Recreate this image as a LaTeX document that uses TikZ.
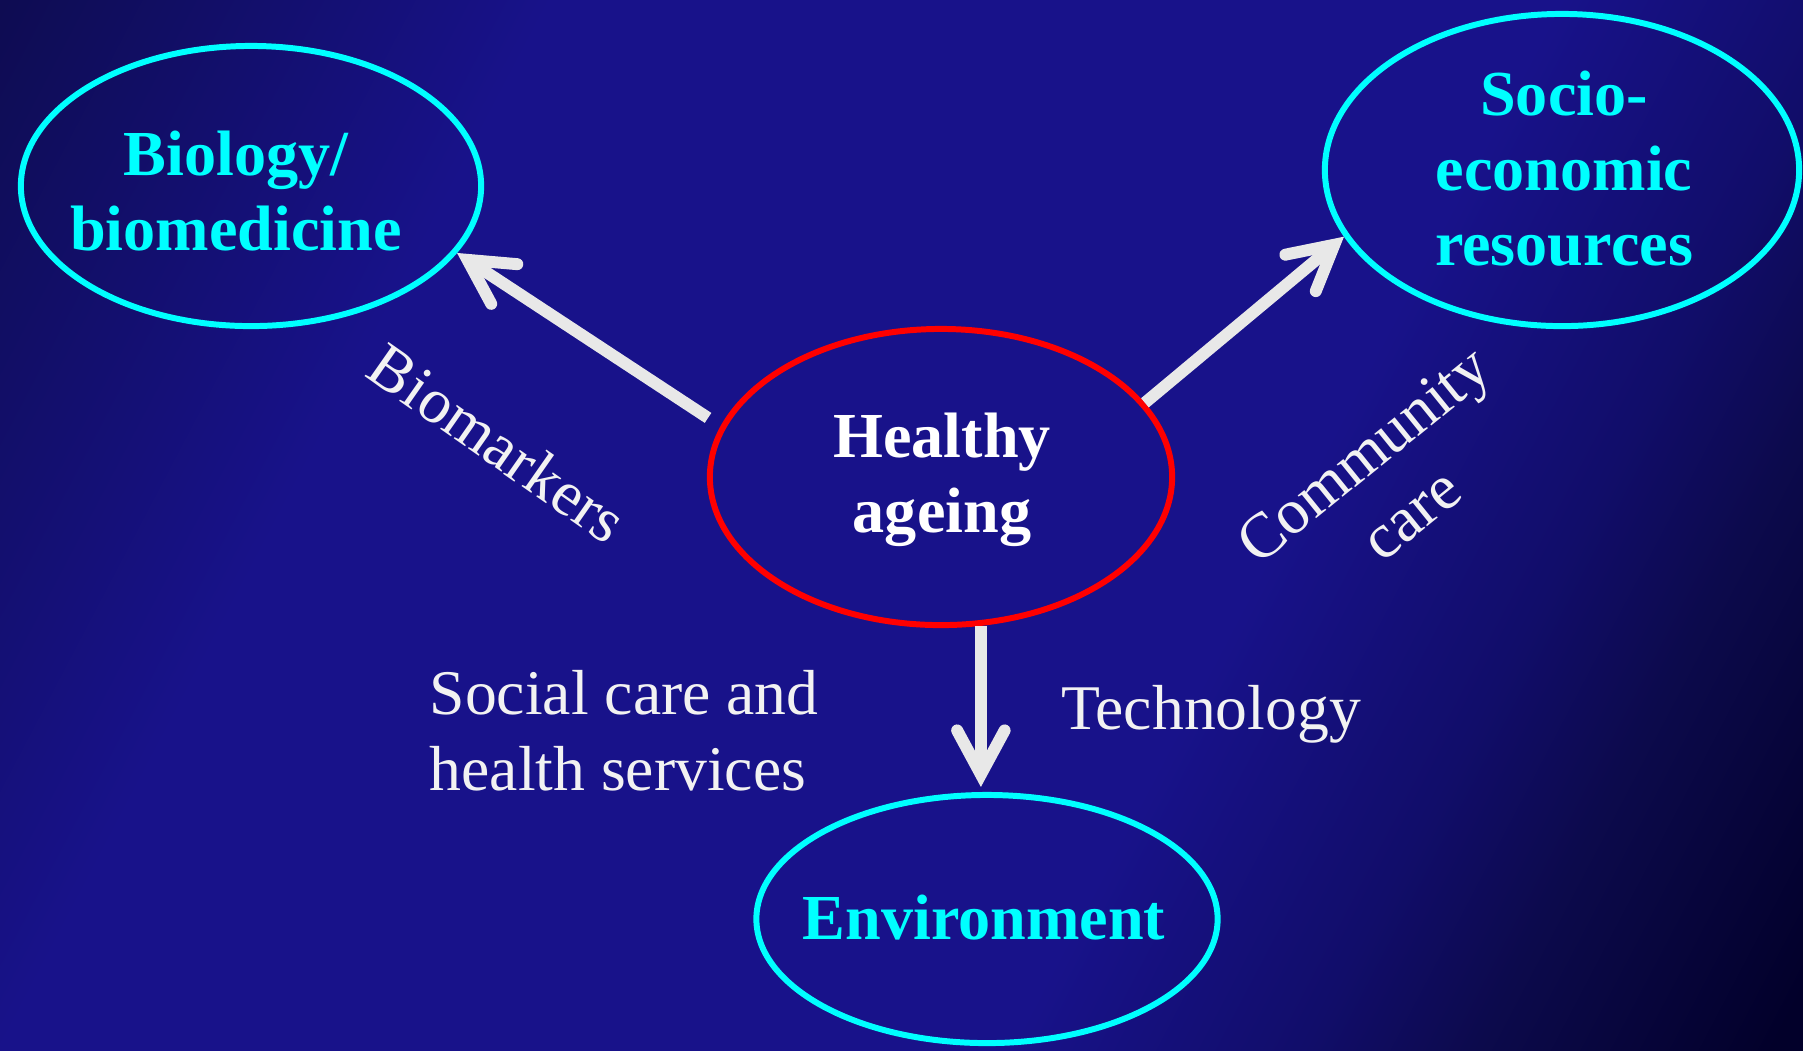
\documentclass[tikz,border=0pt]{standalone}
\usepackage{fontspec}
\setmainfont{Liberation Serif}
\usetikzlibrary{arrows.meta,shapes.geometric,calc}
\definecolor{aqua}{RGB}{0,255,255}
\definecolor{bgA}{HTML}{0E0C52}
\definecolor{bgB}{HTML}{18128A}
\definecolor{bgC}{HTML}{110D6A}
\definecolor{bgD}{HTML}{0C0A4C}
\definecolor{bgE}{HTML}{02002A}
\definecolor{arrowgrey}{HTML}{E8E8E8}
\definecolor{labelwhite}{HTML}{F2F2F2}
\pgfdeclarehorizontalshading{bgshade}{100bp}{color(0bp)=(bgA); color(16.25bp)=(bgA); color(32bp)=(bgB); color(61bp)=(bgB); color(69.5bp)=(bgC); color(74.5bp)=(bgD); color(83bp)=(bgE); color(100bp)=(bgE)}
\begin{document}
\begin{tikzpicture}[x=0.01cm,y=-0.01cm,
  oval/.style={ellipse, draw, line width=1.7pt, inner sep=0pt},
  cyanoval/.style={oval, draw=aqua},
  redoval/.style={oval, draw=red},
  ovaltext/.style={font=\bfseries\fontsize{18.25}{21.3}\selectfont, align=center, inner sep=0pt, text=aqua},
  linktext/.style={font=\fontsize{18.1}{21.6}\selectfont, inner sep=0pt, text=labelwhite},
  link/.style={draw=arrowgrey, line width=3.4pt, -{Straight Barb[length=12.5pt, width=13.5pt, line cap=round, line join=miter]}}
]
\useasboundingbox (0,0) rectangle (1803,1050);
\shade[shading=bgshade, shading angle=-27.7] (0,0) rectangle (1803,1050);

\node[cyanoval, minimum width=4.6cm, minimum height=2.8cm] (bio) at (251,186) {};
\node[cyanoval, minimum width=4.74cm, minimum height=3.12cm] (soc) at (1562,170) {};
\node[redoval, minimum width=4.62cm, minimum height=2.96cm] (h) at (941,477) {};
\node[cyanoval, minimum width=4.61cm, minimum height=2.48cm] (env) at (987,919) {};

\draw[link, shorten <=0.15cm] (h.167) -- (bio.-18);
\draw[link] (h.20) -- (soc.197);
\draw[link, shorten >=0.05cm] (h.-75.3) -- (h.-75.3 |- env.north);

\node[ovaltext] (bioT) at (236,191) {Biology/\\biomedicine};
\node[ovaltext] (socT) at (1564,169) {Socio-\\economic\\resources};
\node[ovaltext, text=white] (hT) at (942,480) {Healthy\\ageing};
\node[ovaltext] (envT) at (984,918) {Environment};

\node[linktext, align=left, anchor=west] (lbSoc) at (429,731) {Social care and\\health services};
\node[linktext] (lbTech) at (1211,714) {Technology};
\node[linktext, rotate=-35] (lbBio) at (498,443) {Biomarkers};
\node[linktext, rotate=39, align=center] (lbCom) at (1387,484) {Community\\care};
\end{tikzpicture}
\end{document}
